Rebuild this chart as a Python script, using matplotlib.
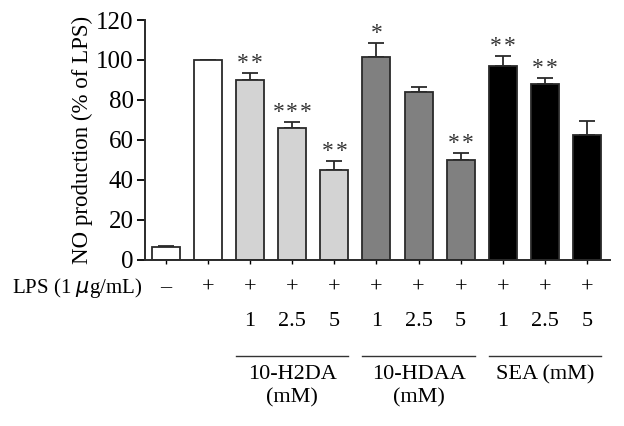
import numpy as np
import matplotlib
matplotlib.use("Agg")
from matplotlib import pyplot as plt

plt.rcParams['font.family'] = ['Liberation Serif', 'DejaVu Serif']

# data
values = [6.3, 100, 89.8, 66.2, 45.2, 101.5, 84.0, 49.8, 97.2, 88.2, 62.3]
errors = [0.8, 0, 3.5, 2.8, 4.3, 6.8, 2.7, 3.7, 4.8, 2.8, 7.3]
colors = ['white', 'white', '#d3d3d3', '#d3d3d3', '#d3d3d3',
          '#808080', '#808080', '#808080', 'black', 'black', 'black']
stars = [0, 0, 2, 3, 2, 1, 0, 2, 2, 2, 0]
lps_row = ['\u2013', '+', '+', '+', '+', '+', '+', '+', '+', '+', '+']
conc_row = ['', '', '1', '2.5', '5', '1', '2.5', '5', '1', '2.5', '5']
groups = [('10-H2DA\n(mM)', 2, 4), ('10-HDAA\n(mM)', 5, 7), ('SEA (mM)', 8, 10)]
yticks = [0, 20, 40, 60, 80, 100, 120]

fig = plt.figure(figsize=(6.24, 4.26), dpi=100)
ax = fig.add_axes([0.232, 0.390, 0.746, 0.563])

x = np.arange(len(values))
w = 0.665
ax.bar(x, values, width=w, color=colors, edgecolor='#2a2a2a', linewidth=1.3, zorder=2)
ax.errorbar(x, values, yerr=[np.zeros(len(errors)), errors], fmt='none',
            ecolor='#2a2a2a', elinewidth=1.3, capsize=6, capthick=1.3, zorder=1)
# significance stars, about 13 px apart
step = 10.0
for i, n in enumerate(stars):
    for k in range(n):
        off = (k - (n - 1) / 2) * step
        ax.annotate('*', (x[i], values[i] + errors[i]), xytext=(off, -0.5),
                    textcoords='offset points', ha='center', va='bottom',
                    fontsize=17, color='#333333')

ax.set_xlim(-0.5, 10.55)
ax.set_ylim(0, 120)
ax.set_yticks(yticks)
ax.set_xticks(x)
ax.set_xticklabels([])
ax.tick_params(axis='y', direction='out', length=6, width=1.3, labelsize=18, pad=2)
ax.tick_params(axis='x', direction='out', length=3, width=1.0)
for sp in ['top', 'right']:
    ax.spines[sp].set_visible(False)
for sp in ['left', 'bottom']:
    ax.spines[sp].set_linewidth(1.4)
    ax.spines[sp].set_color('#2a2a2a')
ax.set_ylabel('NO production (% of LPS)', fontsize=16.5, labelpad=2)

# rows below the axis
trans = ax.get_xaxis_transform()
def ypos(px):
    # figure pixel row (from top) -> axes fraction
    return (426 - px - 0.390 * 426) / (0.563 * 426)

ax.text(-0.55, ypos(288), 'LPS (1 $\\mu$g/mL)', transform=trans, ha='right', va='center',
        fontsize=15, clip_on=False)
for i in range(len(values)):
    ax.text(x[i], ypos(288), lps_row[i], transform=trans, ha='center', va='center',
            fontsize=16, clip_on=False)
    if conc_row[i]:
        ax.text(x[i], ypos(322), conc_row[i], transform=trans, ha='center', va='center',
                fontsize=16, clip_on=False)
for label, a, b in groups:
    ax.plot([x[a] - w / 2, x[b] + w / 2], [ypos(356), ypos(356)], transform=trans,
            color='#333333', lw=1.0, clip_on=False)
    ax.text((x[a] + x[b]) / 2, ypos(365), label, transform=trans, ha='center', va='top',
            fontsize=16, linespacing=1.3, clip_on=False)

fig.savefig('out.png', dpi=100)
